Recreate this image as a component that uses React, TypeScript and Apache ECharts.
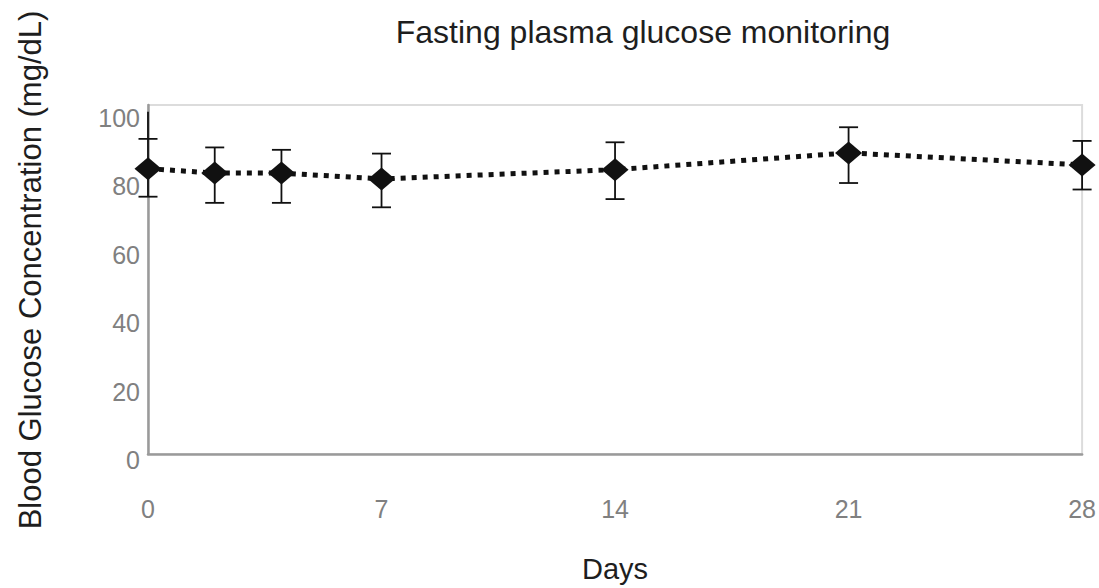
import React, { useEffect, useRef } from "react";
import * as echarts from "echarts";

const days = [0, 2, 4, 7, 14, 21, 28];
const means = [83.4, 82.1, 82.1, 80.4, 83.1, 88.0, 84.5];
const upper = [92.1, 89.6, 88.9, 87.8, 91.1, 95.5, 91.5];
const lower = [75.2, 73.4, 73.4, 72.1, 74.5, 79.2, 77.3];
const stemTop = [100, null, null, null, null, null, null];
const xTicks = [0, 7, 14, 21, 28];
const yTicks = [0, 20, 40, 60, 80, 100];

const titleText = "Fasting plasma glucose monitoring";
const yName = "Blood Glucose Concentration (mg/dL)";
const xName = "Days";

export default function App() {
  const ref = useRef<HTMLDivElement>(null);
  useEffect(() => {
    document.body.style.margin = "0";
    const chart = echarts.init(ref.current!, null, { renderer: "svg" });
    const errData = days.map((d, i) => [d, lower[i], upper[i], stemTop[i] ?? upper[i]]);
    chart.setOption({
      animation: false,
      backgroundColor: "#ffffff",
      textStyle: { fontFamily: "Liberation Sans" },
      graphic: [
        {
          type: "text",
          x: 643,
          y: 32,
          style: {
            text: titleText,
            fontSize: 32,
            fontFamily: "Liberation Sans",
            fill: "#1e1e1e",
            textAlign: "center",
            textVerticalAlign: "middle",
          },
        },
        {
          type: "text",
          x: 30,
          y: 270,
          rotation: Math.PI / 2,
          style: {
            text: yName,
            fontSize: 31,
            fontFamily: "Liberation Sans",
            fill: "#1e1e1e",
            textAlign: "center",
            textVerticalAlign: "middle",
          },
        },
      ],
      grid: {
        left: 148,
        right: 16,
        top: 105,
        bottom: 133,
        show: true,
        borderColor: "#dcdcdc",
        borderWidth: 2,
      },
      xAxis: {
        type: "value",
        min: 0,
        max: 28,
        interval: 7,
        name: xName,
        nameLocation: "middle",
        nameGap: 100,
        nameTextStyle: { fontSize: 29, color: "#1e1e1e", fontFamily: "Liberation Sans" },
        axisLine: { lineStyle: { color: "#9a9a9a", width: 2.5 } },
        axisTick: { show: false },
        splitLine: { show: false },
        axisLabel: {
          margin: 42,
          fontSize: 25,
          color: "#808080",
          fontFamily: "Liberation Sans",
          formatter: (v: number) => (xTicks.includes(v) ? String(v) : ""),
        },
      },
      yAxis: {
        type: "value",
        min: 0,
        max: 102,
        interval: 20,
        axisLine: { show: true, lineStyle: { color: "#9a9a9a", width: 2.5 } },
        axisTick: { show: false },
        splitLine: { show: false },
        axisLabel: {
          margin: 8,
          fontSize: 25,
          color: "#808080",
          fontFamily: "Liberation Sans",
          verticalAlign: "top",
          lineHeight: 12,
          formatter: (v: number) => (yTicks.includes(v) ? String(v) : ""),
        },
      },
      series: [
        {
          type: "custom",
          z: 3,
          data: errData,
          renderItem: (params: any, api: any) => {
            const x = api.value(0);
            const lo = api.coord([x, api.value(1)]);
            const hi = api.coord([x, api.value(2)]);
            const top = api.coord([x, api.value(3)]);
            const cap = 9.5;
            const style = { stroke: "#111", lineWidth: 1.8 };
            return {
              type: "group",
              children: [
                { type: "line", shape: { x1: lo[0], y1: lo[1], x2: top[0], y2: top[1] }, style },
                { type: "line", shape: { x1: lo[0] - cap, y1: lo[1], x2: lo[0] + cap, y2: lo[1] }, style },
                { type: "line", shape: { x1: hi[0] - cap, y1: hi[1], x2: hi[0] + cap, y2: hi[1] }, style },
              ],
            };
          },
        },
        {
          type: "line",
          z: 4,
          data: days.map((d, i) => [d, means[i]]),
          symbol: "diamond",
          symbolSize: [27, 23],
          itemStyle: { color: "#111" },
          lineStyle: { color: "#111", width: 5, type: [5, 6] },
        },
      ],
    });
    return () => chart.dispose();
  }, []);
  return <div ref={ref} style={{ width: 1099, height: 588 }} />;
}
